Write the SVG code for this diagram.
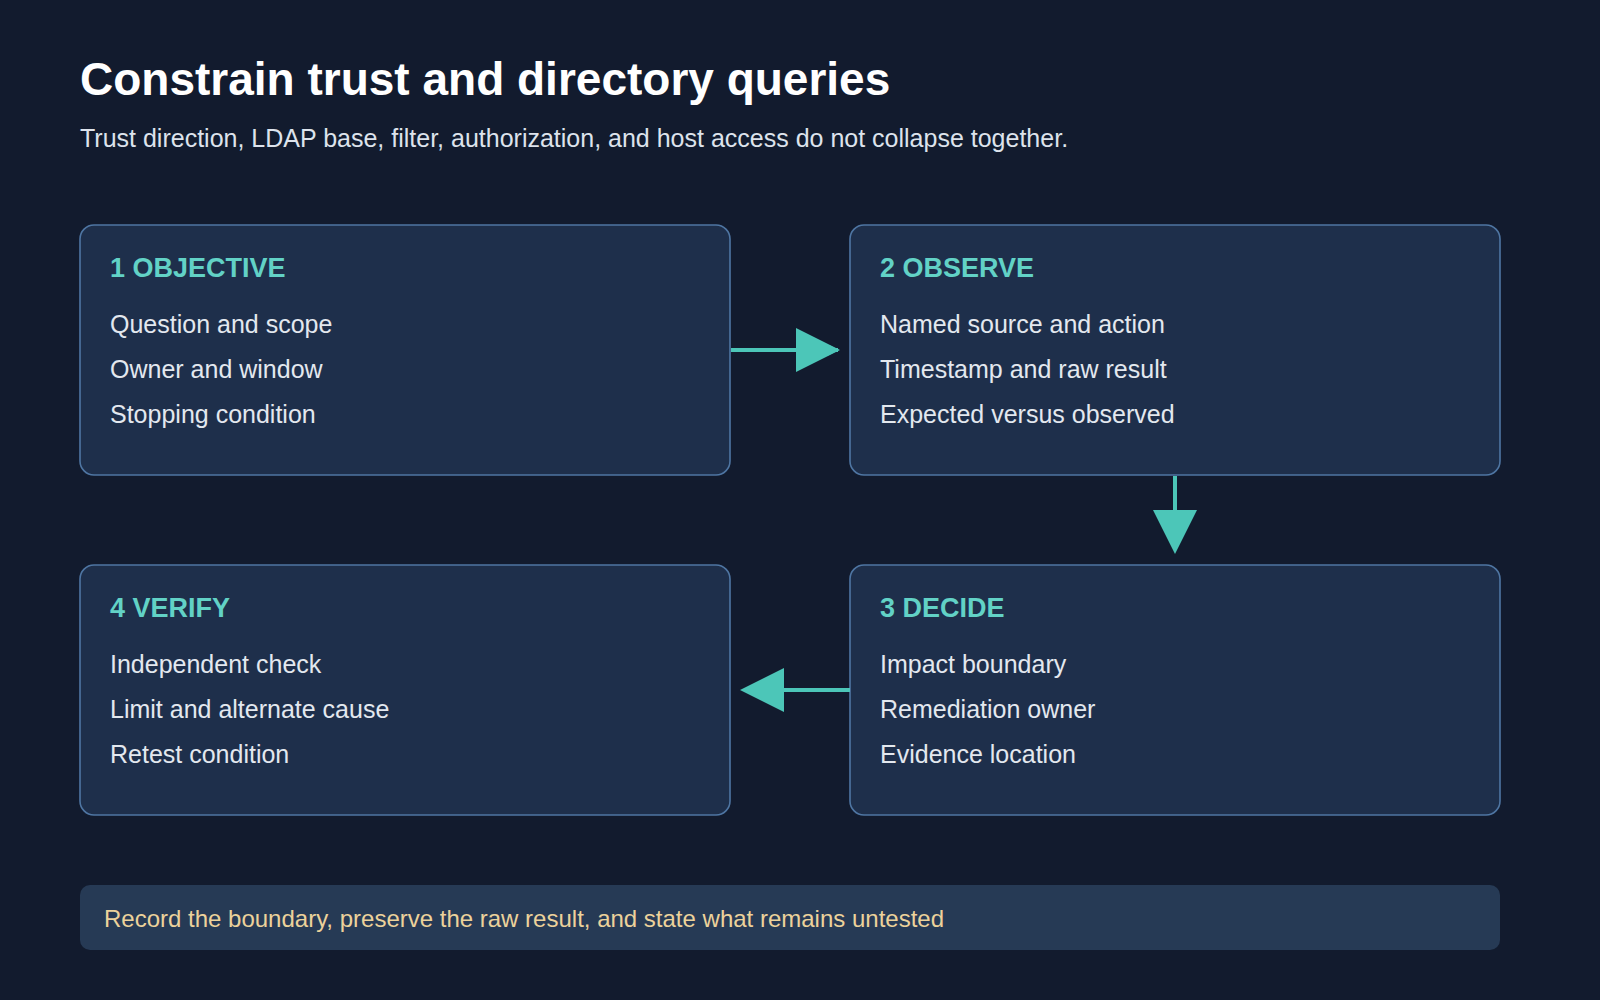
<svg xmlns="http://www.w3.org/2000/svg" width="1600" height="1000" viewBox="0 0 1600 1000">
<style>
text{font-family:"Liberation Sans",Arial,sans-serif}
.box{fill:#1e2f4b;stroke:#4f76a3;stroke-width:1.6}
.h{fill:#62d2c6;font-size:27px;font-weight:bold}
.i{fill:#e3e8ef;font-size:25px}
.c{stroke:#4cc6b8;stroke-width:4;fill:none}
</style>
<defs><marker id="a" viewBox="0 0 10 10" refX="9" refY="5" markerWidth="11" markerHeight="11" markerUnits="userSpaceOnUse"><path d="M0 0L10 5L0 10z" fill="#4cc6b8"/></marker></defs>
<rect width="1600" height="1000" fill="#121b2e"/>
<text x="80" y="95" fill="#fff" font-size="46" font-weight="bold">Constrain trust and directory queries</text>
<text x="80" y="147" fill="#dde3ec" font-size="25">Trust direction, LDAP base, filter, authorization, and host access do not collapse together.</text>
<g id="n1"><rect class="box" x="80" y="225" width="650" height="250" rx="14"/><text class="h" x="110" y="277">1 OBJECTIVE</text><text class="i" x="110" y="333">Question and scope</text><text class="i" x="110" y="378">Owner and window</text><text class="i" x="110" y="423">Stopping condition</text></g>
<g id="n2"><rect class="box" x="850" y="225" width="650" height="250" rx="14"/><text class="h" x="880" y="277">2 OBSERVE</text><text class="i" x="880" y="333">Named source and action</text><text class="i" x="880" y="378">Timestamp and raw result</text><text class="i" x="880" y="423">Expected versus observed</text></g>
<g id="n3"><rect class="box" x="850" y="565" width="650" height="250" rx="14"/><text class="h" x="880" y="617">3 DECIDE</text><text class="i" x="880" y="673">Impact boundary</text><text class="i" x="880" y="718">Remediation owner</text><text class="i" x="880" y="763">Evidence location</text></g>
<g id="n4"><rect class="box" x="80" y="565" width="650" height="250" rx="14"/><text class="h" x="110" y="617">4 VERIFY</text><text class="i" x="110" y="673">Independent check</text><text class="i" x="110" y="718">Limit and alternate cause</text><text class="i" x="110" y="763">Retest condition</text></g>
<g id="connectors">
<line class="c" x1="731" y1="350" x2="838" y2="350" marker-end="url(#a)" style="stroke-width:4"/>
<path d="M796 328L840 350L796 372z" fill="#4cc6b8"/>
<line class="c" x1="1175" y1="476" x2="1175" y2="515"/>
<path d="M1153 510L1175 554L1197 510z" fill="#4cc6b8"/>
<line class="c" x1="850" y1="690" x2="780" y2="690"/>
<path d="M784 668L740 690L784 712z" fill="#4cc6b8"/>
</g>
<g id="footer"><rect x="80" y="885" width="1420" height="65" rx="10" fill="#263a55"/><text x="104" y="927" fill="#ecd29b" font-size="24">Record the boundary, preserve the raw result, and state what remains untested</text></g>
</svg>
